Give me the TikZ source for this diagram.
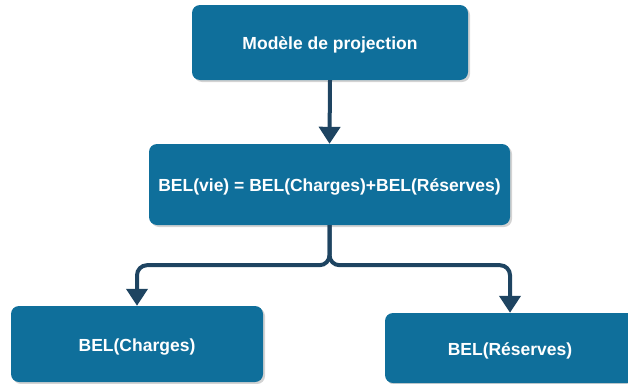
\documentclass[tikz,border=0pt]{standalone}
\usepackage{fontspec}
\setmainfont{Liberation Sans}
\usetikzlibrary{arrows.meta,shadows}
\definecolor{boxblue}{HTML}{0F6F9B}
\definecolor{linknavy}{HTML}{1E4461}
\tikzset{
  block/.style={rectangle, rounded corners=8pt, fill=boxblue, draw=none,
    text=white, font=\fontsize{17.5}{21}\selectfont\bfseries, align=center,
    text height=17pt, text depth=3pt,
    drop shadow={opacity=0.35, shadow xshift=2pt, shadow yshift=-2pt}},
  conn/.style={draw=linknavy, line width=4pt, rounded corners=10pt,
    -{Triangle[width=21pt,length=17pt]}}
}
\begin{document}
\begin{tikzpicture}[x=1pt,y=-1pt]
  \useasboundingbox (0,0) rectangle (628,383);
  \begin{scope}
    \clip (0,0) rectangle (628,383);
    \node[block, minimum width=276pt, minimum height=75pt] (model) at (330,42.5) {Modèle de projection};
    \node[block, minimum width=361pt, minimum height=81pt] (bel) at (329.5,184.5) {BEL(vie) = BEL(Charges)+BEL(Réserves)};
    \node[block, minimum width=252pt, minimum height=76pt] (charges) at (137,344) {BEL(Charges)};
    \node[block, minimum width=250pt, minimum height=70pt] (reserves) at (510,348) {BEL(Réserves)};
  \end{scope}
  \draw[conn] (model.south) -- (bel.north);
  \draw[conn] (bel.south) -- ++(0,40) -| (charges.north);
  \draw[conn] (bel.south) -- ++(0,40) -| (reserves.north);
\end{tikzpicture}
\end{document}
